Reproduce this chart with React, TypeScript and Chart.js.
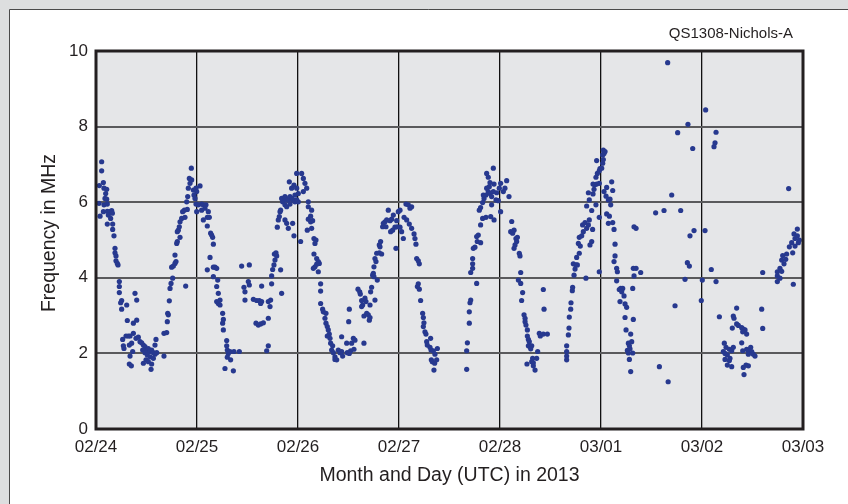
import React, { useEffect, useRef } from "react";
import { Chart, registerables } from "chart.js";

Chart.register(...registerables);

// Tick labels (month/day, UTC, 2013)
const dateTicks = ["02/24", "02/25", "02/26", "02/27", "02/28", "03/01", "03/02", "03/03"];
const freqTicks = [0, 2, 4, 6, 8, 10];

// Observation time, in days since 02/24 00:00 UTC
const dayOffset = [
  0.056, 0.056, 0.073, 0.033, 0.079, 0.106, 0.096, 0.089, 0.106, 0.030, 0.079, 0.112, 0.073, 0.040, 0.112, 0.139,
  0.155, 0.162, 0.122, 0.145, 0.112, 0.165, 0.165, 0.178, 0.188, 0.188, 0.198, 0.198, 0.211, 0.218, 0.231, 0.231,
  0.231, 0.254, 0.244, 0.254, 0.304, 0.310, 0.370, 0.403, 0.386, 0.403, 0.264, 0.297, 0.320, 0.337, 0.353, 0.330,
  0.271, 0.277, 0.370, 0.396, 0.419, 0.436, 0.452, 0.469, 0.485, 0.502, 0.518, 0.535, 0.551, 0.568, 0.584, 0.601,
  0.594, 0.584, 0.462, 0.485, 0.508, 0.535, 0.495, 0.469, 0.518, 0.551, 0.545, 0.568, 0.337, 0.330, 0.350, 0.363,
  0.673, 0.673, 0.700, 0.706, 0.716, 0.710, 0.726, 0.733, 0.743, 0.759, 0.749, 0.766, 0.782, 0.792, 0.782, 0.799,
  0.805, 0.815, 0.805, 0.832, 0.825, 0.832, 0.848, 0.858, 0.875, 0.881, 0.904, 0.898, 0.908, 0.914, 0.931, 0.924,
  0.944, 0.947, 0.964, 0.990, 0.997, 1.030, 0.970, 0.980, 0.990, 0.997, 0.888, 1.013, 1.046, 1.063, 1.079, 1.089,
  1.046, 1.063, 1.102, 1.112, 1.122, 1.102, 1.135, 1.145, 1.155, 1.162, 1.129, 1.102, 1.162, 1.178, 1.195, 1.162,
  1.205, 1.195, 1.211, 1.195, 1.211, 1.228, 1.228, 1.254, 1.261, 1.254, 1.261, 1.294, 1.294, 1.300, 1.310, 1.327,
  1.300, 1.333, 1.277, 1.360, 1.366, 1.419, 1.442, 1.518, 1.508, 1.518, 1.465, 1.475, 1.475, 1.558, 1.591, 1.617,
  1.640, 1.630, 1.640, 1.584, 1.607, 1.630, 1.657, 1.706, 1.723, 1.706, 1.729, 1.739, 1.739, 1.749, 1.762, 1.772,
  1.766, 1.782, 1.789, 1.828, 1.838, 1.706, 1.690, 1.795, 1.805, 1.815, 1.822, 1.828, 1.848, 1.855, 1.838, 1.871,
  1.881, 1.888, 1.904, 1.921, 1.937, 1.954, 1.970, 1.987, 2.003, 1.871, 1.888, 1.921, 1.871, 1.888, 1.904, 1.947,
  1.960, 2.026, 1.987, 2.036, 2.053, 1.914, 1.937, 1.960, 1.970, 1.987, 2.003, 2.053, 2.069, 2.086, 2.102, 2.102,
  2.102, 2.092,
  2.135, 2.125, 2.145, 2.135, 2.125, 2.158, 2.178, 2.168, 2.158, 2.185, 2.201, 2.211, 2.185, 2.168, 2.152, 2.201,
  2.224, 2.224, 2.224, 2.244, 2.251, 2.277, 2.267, 2.277, 2.290, 2.300, 2.310, 2.290, 2.317, 2.323, 2.343, 2.333,
  2.350, 2.366, 2.383, 2.366, 2.399, 2.416, 2.432, 2.442, 2.432, 2.482, 2.488, 2.508, 2.521, 2.531, 2.548, 2.554,
  2.564, 2.508, 2.502, 2.653, 2.594, 2.611, 2.617, 2.630, 2.640, 2.663, 2.673, 2.630, 2.653, 2.696, 2.713, 2.706,
  2.680, 2.713, 2.719, 2.729, 2.762, 2.746, 2.739, 2.752, 2.785, 2.752, 2.772, 2.762, 2.779, 2.805, 2.828, 2.812,
  2.805, 2.818, 2.838, 2.845, 2.861, 2.878, 2.871, 2.911, 2.927, 2.944, 2.894, 2.917, 2.937, 2.960, 2.977, 2.993,
  3.010, 2.970, 2.983, 3.010, 3.026, 3.043, 3.050, 3.069, 3.092, 3.109, 3.125, 3.076, 3.102, 3.125, 3.149, 3.158,
  3.168, 3.175, 3.191, 3.201, 3.191, 3.182, 3.201, 3.214, 3.234, 3.241, 3.247, 3.241, 3.257, 3.267, 3.274, 3.280,
  3.307, 3.313, 3.317, 3.340, 3.380, 3.356, 3.320, 3.330, 3.373, 3.353, 3.346, 3.670, 3.670, 3.677, 3.696, 3.696,
  3.703, 3.710, 3.769, 3.710, 3.729, 3.729, 3.729, 3.736, 3.752, 3.775, 3.769, 3.785, 3.808, 3.808, 3.828, 3.861,
  3.795, 3.808, 3.828, 3.842, 3.835, 3.861, 3.868, 3.884, 3.894, 3.901, 3.917, 3.917, 3.934, 3.941, 3.941, 3.908,
  3.934, 3.868, 3.884, 3.901, 3.960, 3.967, 3.983, 4.006, 4.006, 4.033, 4.066, 4.049, 4.089, 3.993,
  4.116, 4.106, 4.125, 4.139, 4.158, 4.165, 4.149, 4.139, 4.172, 4.191, 4.198, 4.205, 4.182, 4.205, 4.224, 4.214,
  4.238, 4.248, 4.248, 4.257, 4.271, 4.271, 4.281, 4.290, 4.281, 4.297, 4.314, 4.304, 4.267, 4.314, 4.330, 4.323,
  4.363, 4.347, 4.330, 4.373, 4.389, 4.399, 4.429, 4.469, 4.429, 4.436, 4.660, 4.660, 4.660, 4.660, 4.677, 4.683,
  4.686, 4.700, 4.703, 4.716, 4.719, 4.733, 4.726, 4.743, 4.752, 4.766, 4.759, 4.785, 4.776, 4.795, 4.785, 4.809,
  4.825, 4.818, 4.842, 4.858, 4.875, 4.884, 4.891, 4.908, 4.917, 4.908, 4.858, 4.884, 4.875, 4.921, 4.931, 4.950,
  4.921, 4.937, 4.957, 4.983, 4.950, 4.964, 4.983, 4.990, 5.007, 5.017, 4.957, 5.017, 5.030, 5.023, 5.040, 5.023,
  4.983, 4.851, 4.983, 5.030, 5.056, 5.050, 5.073, 5.089, 5.096, 5.106, 5.116, 5.056, 5.083, 5.073, 5.116, 5.129,
  5.139, 5.139, 5.129, 5.155, 5.162, 5.155, 5.181, 5.195, 5.215, 5.205, 5.228, 5.188, 5.238, 5.254, 5.238, 5.248,
  5.271, 5.281, 5.261, 5.287, 5.271, 5.314, 5.304, 5.294, 5.320, 5.281, 5.294, 5.314, 5.327, 5.320, 5.347, 5.393,
  5.327, 5.347, 5.541, 5.624, 5.700, 5.789, 5.578, 5.665, 5.733, 5.660, 5.759, 5.861, 5.908, 6.036, 5.832, 5.855,
  5.875, 5.881, 5.921, 5.993, 6.003, 6.030,
  6.139, 6.129, 6.119, 6.858, 6.092, 6.139, 6.172, 6.343, 6.310, 6.317, 6.300, 6.343, 6.360, 6.393, 6.409, 6.426,
  6.403, 6.442, 6.393, 6.221, 6.238, 6.271, 6.294, 6.310, 6.211, 6.228, 6.251, 6.277, 6.271, 6.228, 6.251, 6.294,
  6.403, 6.442, 6.482, 6.459, 6.492, 6.459, 6.508, 6.525, 6.409, 6.436, 6.459, 6.416, 6.591, 6.601, 6.601, 6.746,
  6.746, 6.746, 6.772, 6.789, 6.772, 6.812, 6.789, 6.829, 6.838, 6.799, 6.865, 6.888, 6.898, 6.921, 6.921, 6.911,
  6.944, 6.954, 6.964, 6.944, 6.904,
];

// Observed frequency, MHz
const freqMHz = [
  7.07, 6.83, 6.52, 6.44, 6.37, 6.34, 6.23, 6.10, 6.08, 5.97, 5.93, 5.95, 5.75, 5.63, 5.76, 5.75,
  5.78, 5.71, 5.66, 5.57, 5.42, 5.42, 5.28, 5.11, 4.78, 4.66, 4.58, 4.45, 4.38, 4.34, 3.90, 3.77,
  3.61, 3.40, 3.34, 3.17, 3.28, 2.87, 2.80, 2.88, 3.59, 3.41, 2.37, 2.46, 2.46, 2.46, 2.27, 2.22,
  2.20, 2.13, 2.53, 2.40, 2.43, 2.31, 2.28, 2.22, 2.18, 2.09, 2.13, 2.05, 2.09, 2.02, 1.98, 2.02,
  2.37, 2.22, 2.09, 2.02, 1.96, 1.91, 1.83, 1.74, 1.78, 1.72, 1.58, 1.87, 1.93, 1.72, 1.67, 2.05,
  1.93, 2.53, 2.55, 2.84, 3.02, 3.06, 3.39, 3.72, 3.85, 3.99, 4.28, 4.31, 4.38, 4.43, 4.60, 4.91,
  4.96, 5.26, 5.22, 5.07, 5.35, 5.48, 5.57, 5.75, 5.79, 5.60, 5.81, 6.01, 6.15, 6.37, 6.50, 6.63,
  6.90, 6.59, 6.32, 6.37, 6.28, 6.43, 6.19, 6.10, 5.95, 5.75, 3.78, 5.93, 5.95, 5.93, 5.84, 5.93,
  5.79, 5.53, 5.60, 5.75, 5.60, 5.37, 5.18, 5.13, 5.07, 4.89, 4.54, 4.21, 4.28, 4.28, 4.25, 4.03,
  3.94, 3.77, 3.59, 3.37, 3.32, 3.41, 3.28, 3.06, 2.90, 2.80, 2.62, 2.34, 2.20, 2.09, 2.00, 2.05,
  1.90, 1.83, 1.60, 1.54, 2.05, 2.05, 4.31, 4.34, 3.90, 3.81, 3.75, 3.63, 3.41, 3.43, 3.40, 3.40,
  3.37, 3.32, 3.78, 2.80, 2.75, 2.78, 2.81, 2.93, 3.24, 3.37, 3.41, 3.84, 4.05, 4.22, 4.34, 4.47,
  4.63, 4.66, 4.58, 4.21, 3.59, 2.20, 2.07, 5.34, 5.53, 5.62, 5.75, 5.79, 6.01, 6.06, 6.10, 6.15,
  6.10, 6.06, 6.06, 6.15, 6.10, 6.06, 6.01, 6.06, 6.01, 5.93, 5.88, 5.95, 5.53, 5.44, 5.31, 5.44,
  5.11, 4.96, 6.76, 6.76, 6.63, 6.54, 6.37, 6.45, 6.19, 6.37, 6.23, 6.28, 6.50, 6.37, 6.01, 5.88,
  5.55, 5.26,
  5.79, 5.48, 5.51, 5.31, 5.63, 5.04, 5.00, 4.91, 4.63, 4.51, 4.43, 4.38, 4.36, 4.29, 4.25, 4.16,
  3.84, 3.65, 3.32, 3.17, 3.10, 3.06, 2.93, 2.80, 2.71, 2.62, 2.51, 2.46, 2.40, 2.27, 2.20, 2.09,
  2.02, 1.91, 1.83, 1.84, 2.09, 2.02, 2.05, 1.93, 2.44, 2.27, 2.02, 2.00, 2.07, 2.27, 2.40, 2.11,
  2.35, 3.17, 2.84, 2.27, 3.70, 3.63, 3.57, 3.40, 3.28, 3.46, 3.37, 3.24, 2.99, 3.02, 2.95, 2.88,
  3.06, 3.28, 3.63, 3.75, 3.41, 4.12, 4.07, 4.03, 3.94, 4.29, 4.43, 4.51, 4.65, 4.66, 4.63, 4.82,
  4.87, 4.96, 5.35, 5.44, 5.48, 5.53, 5.35, 5.51, 5.55, 5.66, 5.79, 5.22, 5.26, 5.34, 5.51, 5.75,
  5.79, 4.78, 5.35, 5.34, 5.22, 5.04, 5.60, 5.95, 5.93, 5.84, 5.88, 5.53, 5.42, 5.31, 5.16, 5.04,
  4.89, 4.51, 4.45, 4.37, 3.84, 3.77, 3.70, 3.40, 3.06, 2.95, 2.81, 2.71, 2.57, 2.51, 2.31, 2.22,
  2.16, 2.40, 2.09, 2.07, 2.13, 1.98, 1.83, 1.78, 1.83, 1.74, 1.56, 1.58, 2.07, 2.28, 2.80, 3.10,
  3.34, 3.41, 3.85, 4.14, 4.25, 4.37, 4.51, 4.78, 4.81, 4.96, 5.09, 5.13, 4.93, 5.40, 5.57, 5.60,
  5.79, 5.86, 5.99, 6.10, 6.19, 6.19, 6.37, 6.28, 6.41, 6.23, 6.15, 5.93, 6.28, 6.48, 5.53, 5.62,
  6.90, 6.76, 6.66, 6.52, 6.06, 6.25, 6.04, 6.50, 5.75, 6.28, 6.57, 6.37, 6.15, 6.37,
  5.49, 5.22, 5.18, 5.26, 5.04, 4.96, 4.87, 4.78, 5.07, 4.65, 4.58, 4.14, 3.94, 3.85, 3.61, 3.40,
  3.02, 2.93, 2.84, 2.75, 2.62, 2.46, 2.37, 2.31, 2.20, 2.18, 2.20, 2.12, 1.72, 1.78, 1.75, 1.87,
  1.87, 1.56, 1.67, 2.05, 2.53, 2.46, 2.51, 2.51, 3.69, 3.17, 2.20, 2.05, 1.93, 1.83, 2.49, 2.67,
  2.96, 3.17, 3.34, 3.66, 3.75, 4.07, 4.37, 4.23, 4.34, 4.34, 4.54, 4.65, 4.91, 4.84, 5.07, 5.11,
  5.22, 5.40, 5.46, 5.31, 5.40, 5.53, 4.87, 4.96, 5.28, 5.78, 5.90, 6.06, 6.25, 6.22, 6.34, 5.93,
  6.48, 6.46, 6.48, 6.50, 6.66, 6.76, 6.83, 6.89, 6.90, 7.03, 7.10, 7.25, 7.29, 7.38, 7.34, 7.13,
  5.60, 3.99, 4.16, 6.28, 6.39, 6.16, 6.06, 6.08, 5.93, 6.54, 6.31, 5.69, 5.63, 5.44, 5.46, 5.28,
  4.89, 4.58, 4.43, 4.25, 4.16, 3.92, 3.69, 3.72, 3.72, 3.63, 3.52, 3.37, 3.31, 3.22, 2.95, 2.62,
  2.27, 2.20, 2.08, 2.12, 2.01, 2.01, 2.31, 2.51, 2.90, 1.84, 1.52, 3.72, 4.05, 4.25, 4.25, 4.14,
  5.35, 5.31, 5.72, 5.78, 6.19, 5.78, 1.65, 1.25, 3.26, 9.69, 7.84, 8.06, 7.42, 8.44, 3.96, 4.40,
  4.31, 5.11, 5.25, 3.40, 3.94, 5.25,
  7.85, 7.57, 7.47, 6.36, 4.22, 3.90, 2.97, 3.20, 2.99, 2.93, 2.67, 2.78, 2.74, 2.68, 2.64, 2.62,
  2.57, 2.51, 2.28, 2.27, 2.16, 2.11, 2.07, 2.16, 2.05, 2.00, 1.96, 1.87, 1.81, 1.84, 1.69, 1.65,
  2.07, 2.11, 2.16, 2.07, 2.05, 1.98, 1.98, 1.93, 1.63, 1.69, 1.67, 1.44, 3.17, 2.66, 4.14, 3.90,
  4.05, 4.16, 3.99, 4.17, 4.25, 4.37, 4.47, 4.49, 4.63, 4.59, 4.82, 4.93, 4.66, 4.84, 5.04, 5.16,
  5.11, 4.93, 5.00, 5.29, 3.83,
];

const INK = "#231f20";
const FONT = "'Liberation Sans', Arial, Helvetica, sans-serif";

export default function App() {
  const canvasRef = useRef<HTMLCanvasElement | null>(null);

  useEffect(() => {
    const canvas = canvasRef.current;
    if (!canvas) return;
    const n = Math.min(dayOffset.length, freqMHz.length);
    const points = [];
    for (let i = 0; i < n; i++) points.push({ x: dayOffset[i], y: freqMHz[i] });

    const framePlugin = {
      id: "frame",
      beforeDraw(chart: any) {
        const { ctx, chartArea } = chart;
        const W = chart.width;
        const H = chart.height;
        ctx.save();
        ctx.fillStyle = "#dddedf";
        ctx.fillRect(0, 0, W, H);
        ctx.fillStyle = "#ffffff";
        ctx.fillRect(10, 10, W - 10, H - 10);
        ctx.strokeStyle = "#4a4a4a";
        ctx.lineWidth = 1;
        ctx.beginPath();
        ctx.moveTo(9.5, H);
        ctx.lineTo(9.5, 9.5);
        ctx.lineTo(W, 9.5);
        ctx.stroke();
        ctx.fillStyle = "#e5e6e8";
        ctx.fillRect(chartArea.left, chartArea.top, chartArea.right - chartArea.left, chartArea.bottom - chartArea.top);
        ctx.restore();
      },
      afterDraw(chart: any) {
        const { ctx, chartArea } = chart;
        const { left, right, top, bottom } = chartArea;
        ctx.save();
        ctx.strokeStyle = INK;
        ctx.lineWidth = 3;
        ctx.strokeRect(left, top, right - left, bottom - top);
        ctx.fillStyle = INK;
        ctx.font = `19.5px ${FONT}`;
        ctx.textAlign = "center";
        ctx.textBaseline = "middle";
        ctx.fillText("Month and Day (UTC) in 2013", (left + right) / 2, 476);
        ctx.save();
        ctx.translate(50, 233);
        ctx.rotate(-Math.PI / 2);
        ctx.fillText("Frequency in MHz", 0, 0);
        ctx.restore();
        ctx.font = `15px ${FONT}`;
        ctx.textAlign = "right";
        ctx.fillText("QS1308-Nichols-A", 793, 34);
        ctx.restore();
      },
    };

    const chart = new Chart(canvas, {
      type: "scatter",
      data: {
        datasets: [
          {
            label: "Frequency",
            data: points,
            pointRadius: 2.6,
            pointHoverRadius: 2.6,
            pointBackgroundColor: "#27398f",
            pointBorderWidth: 0,
            borderWidth: 0,
          },
        ],
      },
      options: {
        responsive: false,
        animation: false,
        events: [],
        layout: { padding: { left: 9, top: 51, right: 45, bottom: 0 } },
        plugins: { legend: { display: false }, tooltip: { enabled: false } },
        scales: {
          x: {
            type: "linear",
            min: 0,
            max: dateTicks.length - 1,
            afterBuildTicks: (scale: any) => {
              scale.ticks = dateTicks.map((_, i) => ({ value: i }));
            },
            afterFit: (scale: any) => {
              scale.height = 75;
            },
            ticks: {
              autoSkip: false,
              maxRotation: 0,
              padding: 8,
              color: INK,
              font: { family: FONT, size: 17 },
              callback: (_v: any, i: number) => dateTicks[i],
            },
            grid: { color: "#111111", lineWidth: 1.3, drawTicks: false },
            border: { display: false },
          },
          y: {
            min: 0,
            max: 10,
            afterBuildTicks: (scale: any) => {
              scale.ticks = freqTicks.map((v) => ({ value: v }));
            },
            afterFit: (scale: any) => {
              scale.width = 87;
            },
            ticks: {
              padding: 8,
              color: INK,
              font: { family: FONT, size: 17 },
              callback: (v: any) => String(v),
            },
            grid: { color: "#5a5a5c", lineWidth: 2, drawTicks: false },
            border: { display: false },
          },
        },
      },
      plugins: [framePlugin],
    });
    return () => chart.destroy();
  }, []);

  return (
    <div style={{ position: "fixed", left: 0, top: 0, width: 848, height: 504 }}>
      <canvas ref={canvasRef} width={848} height={504} style={{ display: "block", width: 848, height: 504 }} />
    </div>
  );
}
